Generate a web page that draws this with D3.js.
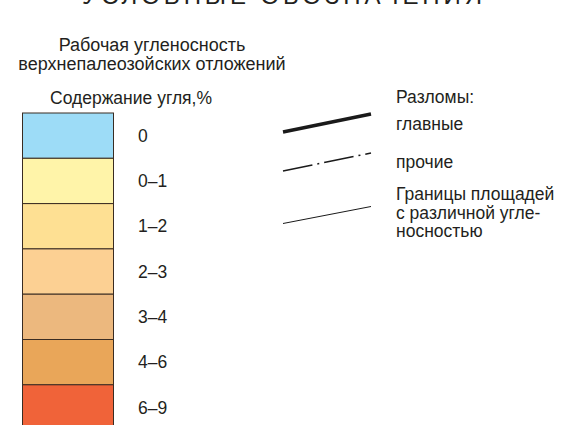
<!DOCTYPE html>
<html>
<head>
<meta charset="utf-8">
<script src="https://cdn.jsdelivr.net/npm/d3@7"></script>
<style>
  body { margin: 0; background: #fff; }
  svg text { font-family: "Liberation Sans", Arial, sans-serif; fill: #231f20; }
</style>
</head>
<body>
<svg width="565" height="425"></svg>
<script>
// coal content classes, %
var classes = ["0", "0–1", "1–2", "2–3", "3–4", "4–6", "6–9"];
var classColors = ["#9ddcf7", "#fff4a9", "#fee093", "#fcd093", "#ecb87e", "#e9a659", "#f06339"];

// fault / boundary line types
var lineLabels = [["главные"], ["прочие"], ["Границы площадей", "с различной угле-", "носностью"]];
var lineWidths = [3.5, 1.5, 1];
var lineDashes = [null, "30 5 2 5", null];

var svg = d3.select("svg");

// title, cut by the top edge as in the scan
svg.append("text")
    .attr("x", 82)
    .attr("y", 4)
    .attr("textLength", 400)
    .attr("lengthAdjust", "spacing")
    .style("font-size", "24px")
    .text("УСЛОВНЫЕ ОБОЗНАЧЕНИЯ");

svg.append("text")
    .attr("x", 152).attr("y", 51)
    .attr("text-anchor", "middle")
    .style("font-size", "18px")
    .text("Рабочая угленосность");
svg.append("text")
    .attr("x", 152).attr("y", 70)
    .attr("text-anchor", "middle")
    .style("font-size", "18px")
    .text("верхнепалеозойских отложений");
svg.append("text")
    .attr("x", 50).attr("y", 104)
    .style("font-size", "17.5px")
    .text("Содержание угля,%");

var y = d3.scaleBand()
    .domain(classes)
    .range([113, 113 + 45.3 * classes.length]);

var rows = svg.append("g").selectAll("g")
    .data(classes)
    .join("g");

rows.append("rect")
    .attr("x", 22.5)
    .attr("y", d => y(d))
    .attr("width", 91)
    .attr("height", y.bandwidth())
    .attr("fill", (d, i) => classColors[i])
    .attr("stroke", "#3a2c22")
    .attr("stroke-width", 1);

rows.append("text")
    .attr("x", 138)
    .attr("y", d => y(d) + y.bandwidth() / 2)
    .attr("dy", "0.35em")
    .style("font-size", "17.5px")
    .text(d => d);

// right legend
svg.append("text")
    .attr("x", 396).attr("y", 103)
    .style("font-size", "17.5px")
    .text("Разломы:");

var lineY = [[132, 114], [171, 153], [223.5, 206.5]];
var textY = [130, 168, 200];

var lg = svg.append("g").selectAll("g")
    .data(lineLabels)
    .join("g");

lg.append("line")
    .attr("x1", 283)
    .attr("x2", 371)
    .attr("y1", (d, i) => lineY[i][0])
    .attr("y2", (d, i) => lineY[i][1])
    .attr("stroke", "#1a1a1a")
    .attr("stroke-width", (d, i) => lineWidths[i])
    .attr("stroke-dasharray", (d, i) => lineDashes[i]);

lg.append("text")
    .attr("x", 396)
    .attr("y", (d, i) => textY[i])
    .style("font-size", "17.5px")
    .selectAll("tspan")
    .data(d => d)
    .join("tspan")
    .attr("x", 396)
    .attr("dy", (d, j) => j === 0 ? 0 : 18.5)
    .text(d => d);
</script>
</body>
</html>
